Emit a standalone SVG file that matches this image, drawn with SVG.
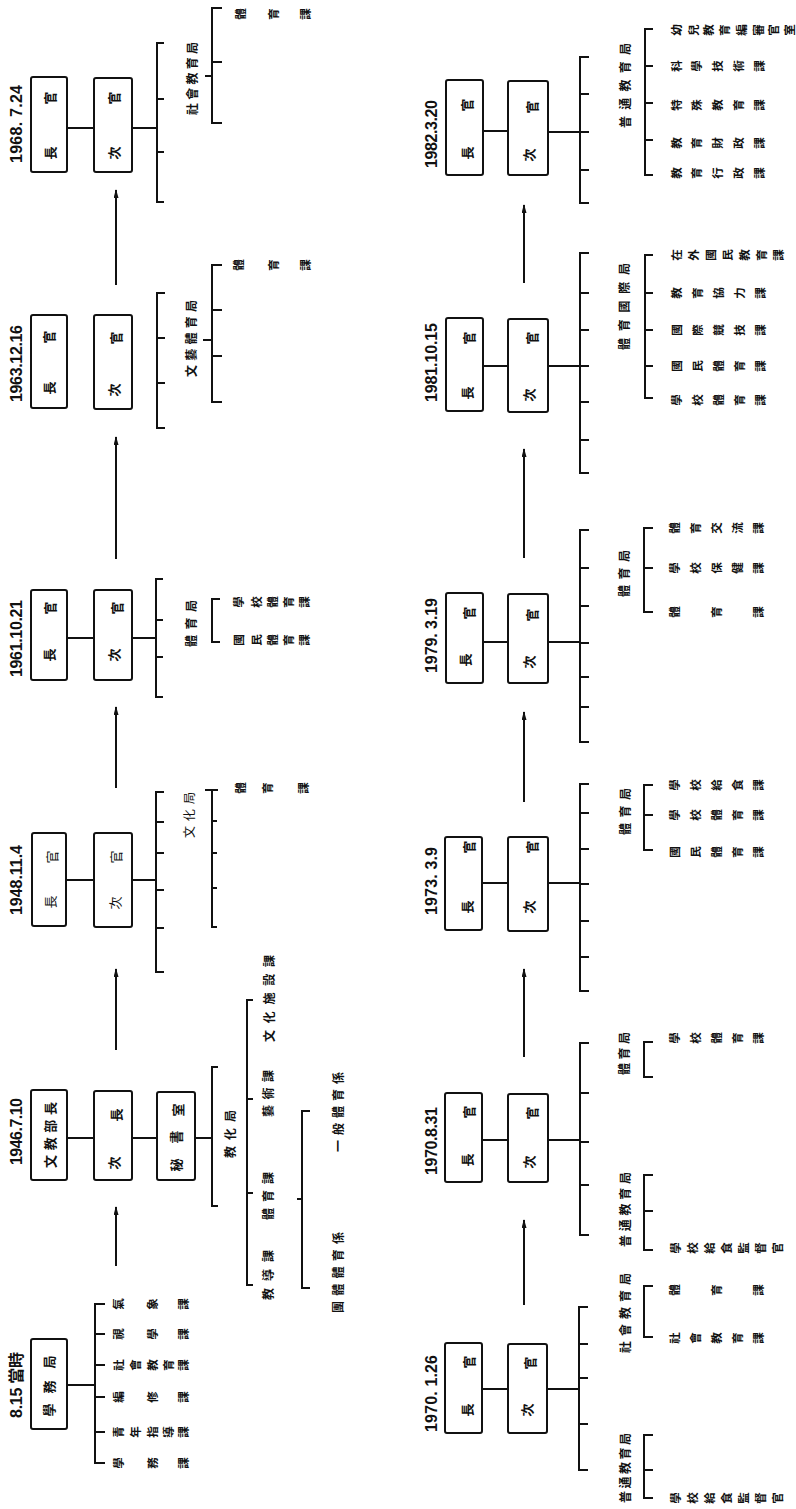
<svg xmlns="http://www.w3.org/2000/svg" width="796" height="1509" viewBox="0 0 796 1509">
<defs>
<style>
.bx{fill:#fff;stroke:#111;stroke-width:2}
.ln{fill:none;stroke:#111;stroke-width:2}
.ar{fill:none;stroke:#111;stroke-width:2;marker-end:url(#ah)}
text{fill:#111;text-anchor:middle;dominant-baseline:central;font-family:"Noto Sans CJK KR","Noto Sans CJK TC",sans-serif;font-weight:700}
.d{font-family:"Liberation Sans","Noto Sans CJK KR",sans-serif;font-size:16px}
.b{font-size:13px}
.l{font-size:12px}
.s{font-size:11.5px}
.th{font-weight:400}
</style>
<marker id="ah" markerUnits="userSpaceOnUse" markerWidth="9" markerHeight="5" viewBox="0 0 9 5" refX="8" refY="2.5" orient="auto"><path d="M0,0 L9,2.5 L0,5 z" fill="#111"/></marker>
</defs>
<rect width="796" height="1509" fill="#fff"/>

<g id="connectors">
<path class="ln" d="M67 128H94M132 128H157M164 43H157V202H164M157 99H164M157 152H164M222 8H212V123H222M212 62H222M205 76H212"/>
<path class="ar" d="M116 285V190"/>
<path class="ln" d="M165 293H157V428H165M157 338H165M157 383H165M222 265H212V402H222M212 310H222M212 356H222M203 340H212"/>
<path class="ar" d="M116 559V437"/>
<path class="ln" d="M67 638H94M132 638H156M163 579H156V697H163M156 620H163M156 657H163M220 599H212V642H220"/>
<path class="ar" d="M116 788V707"/>
<path class="ln" d="M66 880H94M132 880H156M164 792H156V972H164M156 822H164M156 853H164M156 890H164M156 928H164M205 790H218M212 790V927H217M212 821H217M212 853H217M212 888H217"/>
<path class="ar" d="M116 1050V969"/>
<path class="ln" d="M67 1138H94M132 1138H157M195 1138H212M218 1067H212V1206H218M253 1000H247V1285H253M247 1099H253M247 1193H253M310 1111H302V1288H310M297 1199H302"/>
<path class="ar" d="M116 1266V1207"/>
<path class="ln" d="M67 1385H95M105 1304H95V1463H105M95 1334H105M95 1365H105M95 1397H105M95 1432H105"/>
<path class="ln" d="M483 131H508M548 132H580M589 57H580V203H589M580 94H589M580 132H589M580 170H589M653 29H645V175H653M645 66H653M645 103H653M645 140H653"/>
<path class="ar" d="M524 283V205"/>
<path class="ln" d="M483 366H508M548 366H580M589 253H580V473H589M580 293H589M580 330H589M580 366H589M580 402H589M580 440H589M653 255H645V398H653M645 293H653M645 330H653M645 366H653"/>
<path class="ar" d="M524 558V449"/>
<path class="ln" d="M483 642H508M548 642H580M589 530H580V742H589M580 568H589M580 606H589M580 643H589M580 677H589M580 707H589M653 528H644V612H653M644 568H653"/>
<path class="ar" d="M524 802V712"/>
<path class="ln" d="M482 883H508M548 883H580M589 784H580V991H589M580 813H589M580 849H589M580 884H589M580 921H589M580 957H589M653 785H644V850H653M644 815H653"/>
<path class="ar" d="M524 1057V969"/>
<path class="ln" d="M482 1140H508M548 1140H580M589 1043H580V1235H589M580 1093H589M580 1142H589M580 1185H589M653 1042H644V1077H653M653 1175H644V1250H653M644 1211H653"/>
<path class="ar" d="M524 1305V1220"/>
<path class="ln" d="M482 1389H508M547 1389H579M588 1307H579V1470H588M579 1344H588M579 1378H588M579 1424H588M653 1286H644V1337H653M653 1435H644V1498H653M644 1470H653"/>
</g>

<g id="n1968">
<rect class="bx" x="31" y="77" width="36" height="95" rx="2"/>
<rect class="bx" x="94" y="78" width="38" height="94" rx="2"/>
<g transform="rotate(-90)">
<text class="d" x="-124" y="16" textLength="78">1968. 7.24</text>
<text class="b" x="-153" y="49">長</text><text class="b" x="-98" y="49">官</text>
<text class="b" x="-153" y="113">次</text><text class="b" x="-98" y="113">官</text>
<text class="l" x="-78.5" y="191" textLength="73">社會教育局</text>
<text class="s" x="-14 -14 -14" y="240 273 305">體育課</text>
</g></g>

<g id="n1963">
<rect class="bx" x="31" y="315" width="36" height="93" rx="2"/>
<rect class="bx" x="94" y="315" width="38" height="94" rx="2"/>
<g transform="rotate(-90)">
<text class="d" x="-363.5" y="16" textLength="77">1963.12.16</text>
<text class="b" x="-388" y="48">長</text><text class="b" x="-337" y="48">官</text>
<text class="b" x="-390" y="113">次</text><text class="b" x="-338" y="115">官</text>
<text class="l" x="-338.5" y="190" textLength="77">文藝體育局</text>
<text class="s" x="-265 -265 -265" y="238 273 305">體育課</text>
</g></g>

<g id="n1961">
<rect class="bx" x="31" y="590" width="36" height="90" rx="2"/>
<rect class="bx" x="94" y="590" width="38" height="90" rx="2"/>
<g transform="rotate(-90)">
<text class="d" x="-638.5" y="16" textLength="77">1961.10.21</text>
<text class="b" x="-655" y="48">長</text><text class="b" x="-608" y="49">官</text>
<text class="b" x="-655" y="113">次</text><text class="b" x="-608" y="116">官</text>
<text class="l" x="-623.5" y="190" textLength="47">體育局</text>
<text class="s" x="-602 -602 -602 -602 -602" y="238 256 272 288 304">學校體育課</text>
<text class="s" x="-640 -640 -640 -640 -640" y="238 256 272 288 304">國民體育課</text>
</g></g>

<g id="n1948">
<rect class="bx" x="32" y="833" width="34" height="93" rx="2"/>
<rect class="bx" x="94" y="833" width="38" height="94" rx="2"/>
<g transform="rotate(-90)">
<text class="d" x="-880" y="16" textLength="70">1948.11.4</text>
<text class="b th" x="-902" y="49">長</text><text class="b th" x="-857" y="51">官</text>
<text class="b th" x="-903" y="114">次</text><text class="b th" x="-857" y="115">官</text>
<text class="l th" x="-815" y="188" textLength="46">文化局</text>
<text class="s" x="-788 -788 -788" y="240 267 303">體育課</text>
</g></g>

<g id="n1946">
<rect class="bx" x="31" y="1090" width="36" height="90" rx="2"/>
<rect class="bx" x="94" y="1091" width="38" height="89" rx="2"/>
<rect class="bx" x="157" y="1092" width="38" height="88" rx="2"/>
<g transform="rotate(-90)">
<text class="d" x="-1131.5" y="16" textLength="67">1946.7.10</text>
<text class="b" x="-1135" y="49" textLength="66">文教部長</text>
<text class="b" x="-1163" y="113">次</text><text class="b" x="-1115" y="115">長</text>
<text class="b" x="-1165" y="175">秘</text><text class="b" x="-1137" y="175">書</text><text class="b" x="-1110" y="177">室</text>
<text class="l" x="-1134" y="229" textLength="48">教化局</text>
<text class="l" x="-998.5" y="268" textLength="87">文化施設課</text>
<text class="l" x="-1093.5" y="267" textLength="47">藝術課</text>
<text class="l" x="-1196" y="267" textLength="48">體育課</text>
<text class="l" x="-1275" y="267" textLength="50">教導課</text>
<text class="l" x="-1112" y="337" textLength="80">一般體育係</text>
<text class="l" x="-1272.5" y="337" textLength="81">團體體育係</text>
</g></g>

<g id="n815">
<rect class="bx" x="31" y="1339" width="36" height="90" rx="2"/>
<g transform="rotate(-90)">
<text class="d" x="-1385" y="16" textLength="66">8.15 當時</text>
<text class="b" x="-1410" y="48">學</text><text class="b" x="-1387" y="48">務</text><text class="b" x="-1362" y="48">局</text>
<text class="s" x="-1304 -1304 -1304" y="118 152 183">氣象課</text>
<text class="s" x="-1334 -1334 -1334" y="118 152 183">視學課</text>
<text class="s" x="-1365 -1365 -1365 -1365 -1365" y="118 135 152 168 183">社會教育課</text>
<text class="s" x="-1397 -1397 -1397" y="118 152 183">編修課</text>
<text class="s" x="-1432 -1432 -1432 -1432 -1432" y="118 135 152 168 183">青年指導課</text>
<text class="s" x="-1463 -1463 -1463" y="118 152 183">學務課</text>
</g></g>

<g id="n1982">
<rect class="bx" x="446" y="80" width="37" height="95" rx="2"/>
<rect class="bx" x="508" y="81" width="40" height="94" rx="2"/>
<g transform="rotate(-90)">
<text class="d" x="-134" y="431" textLength="68">1982.3.20</text>
<text class="b" x="-153" y="466">長</text><text class="b" x="-105" y="466">官</text>
<text class="b" x="-155" y="528">次</text><text class="b" x="-107" y="531">官</text>
<text class="l" x="-85.5" y="624" textLength="85">普通教育局</text>
<text class="s" x="-30 -30 -30 -30 -30 -30 -30 -30" y="676 693 708 724 741 758 773 789">幼兒教育編審官室</text>
<text class="s" x="-66 -66 -66 -66 -66" y="676 696 717 738 759">科學技術課</text>
<text class="s" x="-105 -105 -105 -105 -105" y="676 696 717 738 759">特殊教育課</text>
<text class="s" x="-143 -143 -143 -143 -143" y="676 696 717 738 759">教育財政課</text>
<text class="s" x="-173 -173 -173 -173 -173" y="676 696 717 738 759">教育行政課</text>
</g></g>

<g id="n1981">
<rect class="bx" x="446" y="318" width="37" height="93" rx="2"/>
<rect class="bx" x="508" y="319" width="40" height="93" rx="2"/>
<g transform="rotate(-90)">
<text class="d" x="-362.5" y="431" textLength="79">1981.10.15</text>
<text class="b" x="-393" y="466">長</text><text class="b" x="-338" y="468">官</text>
<text class="b" x="-395" y="528">次</text><text class="b" x="-338" y="531">官</text>
<text class="l" x="-306.5" y="623" textLength="87">體育國際局</text>
<text class="s" x="-255 -255 -255 -255 -255 -255 -255" y="676 693 710 727 744 761 778">在外國民教育課</text>
<text class="s" x="-293 -293 -293 -293 -293" y="676 697 718 739 760">教育協力課</text>
<text class="s" x="-330 -330 -330 -330 -330" y="676 697 718 739 760">國際競技課</text>
<text class="s" x="-366 -366 -366 -366 -366" y="676 697 718 739 760">國民體育課</text>
<text class="s" x="-400 -400 -400 -400 -400" y="676 697 718 739 760">學校體育課</text>
</g></g>

<g id="n1979">
<rect class="bx" x="446" y="593" width="37" height="90" rx="2"/>
<rect class="bx" x="508" y="594" width="40" height="89" rx="2"/>
<g transform="rotate(-90)">
<text class="d" x="-635.5" y="431" textLength="75">1979. 3.19</text>
<text class="b" x="-660" y="464">長</text><text class="b" x="-613" y="468">官</text>
<text class="b" x="-662" y="528">次</text><text class="b" x="-615" y="531">官</text>
<text class="l" x="-573.5" y="623" textLength="47">體育局</text>
<text class="s" x="-528 -528 -528 -528 -528" y="674 695 716 737 758">體育交流課</text>
<text class="s" x="-568 -568 -568 -568 -568" y="674 695 716 737 758">學校保健課</text>
<text class="s" x="-612 -612 -612" y="674 716 758">體育課</text>
</g></g>

<g id="n1973">
<rect class="bx" x="445" y="837" width="37" height="93" rx="2"/>
<rect class="bx" x="508" y="837" width="40" height="94" rx="2"/>
<g transform="rotate(-90)">
<text class="d" x="-881" y="431" textLength="68">1973. 3.9</text>
<text class="b" x="-907" y="466">長</text><text class="b" x="-847" y="468">官</text>
<text class="b" x="-907" y="528">次</text><text class="b" x="-847" y="531">官</text>
<text class="l" x="-811.5" y="624" textLength="47">體育局</text>
<text class="s" x="-785 -785 -785 -785 -785" y="674 695 716 737 758">學校給食課</text>
<text class="s" x="-815 -815 -815 -815 -815" y="674 695 716 737 758">學校體育課</text>
<text class="s" x="-852 -852 -852 -852 -852" y="674 695 716 737 758">國民體育課</text>
</g></g>

<g id="n1970b">
<rect class="bx" x="445" y="1093" width="37" height="89" rx="2"/>
<rect class="bx" x="508" y="1094" width="40" height="88" rx="2"/>
<g transform="rotate(-90)">
<text class="d" x="-1141" y="431" textLength="68">1970.8.31</text>
<text class="b" x="-1160" y="466">長</text><text class="b" x="-1112" y="468">官</text>
<text class="b" x="-1162" y="528">次</text><text class="b" x="-1113" y="531">官</text>
<text class="l" x="-1053.5" y="623" textLength="43">體育局</text>
<text class="l" x="-1209.5" y="624" textLength="75">普通教育局</text>
<text class="s" x="-1038 -1038 -1038 -1038 -1038" y="674 695 716 737 758">學校體育課</text>
<text class="s" x="-1248 -1248 -1248 -1248 -1248 -1248 -1248" y="675 692 709 726 743 760 777">學校給食監督官</text>
</g></g>

<g id="n1970a">
<rect class="bx" x="445" y="1343" width="37" height="90" rx="2"/>
<rect class="bx" x="508" y="1344" width="39" height="89" rx="2"/>
<g transform="rotate(-90)">
<text class="d" x="-1393.5" y="431" textLength="77">1970. 1.26</text>
<text class="b" x="-1410" y="466">長</text><text class="b" x="-1362" y="468">官</text>
<text class="b" x="-1410" y="526">次</text><text class="b" x="-1363" y="529">官</text>
<text class="l" x="-1313" y="624" textLength="80">社會教育局</text>
<text class="l" x="-1468" y="624" textLength="70">普通教育局</text>
<text class="s" x="-1290 -1290 -1290" y="674 716 758">體育課</text>
<text class="s" x="-1338 -1338 -1338 -1338 -1338" y="674 695 716 737 758">社會教育課</text>
<text class="s" x="-1498 -1498 -1498 -1498 -1498 -1498 -1498" y="675 692 709 726 743 760 777">學校給食監督官</text>
</g></g>
</svg>
